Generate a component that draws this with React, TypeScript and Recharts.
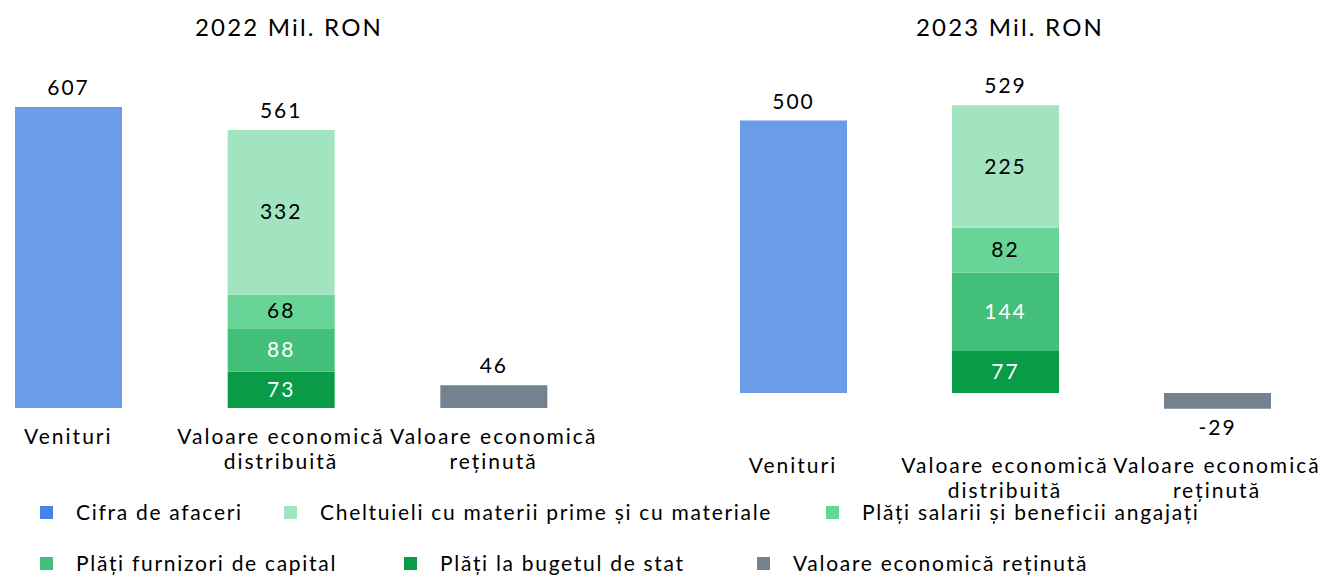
import { Bar, BarChart, LabelList, XAxis, YAxis } from "recharts";

const categorii = ["Venituri", "Valoare economică distribuită", "Valoare economică reținută"];

// 2022, Mil. RON
const cifraAfaceri2022 = [607, null, null];
const buget2022 = [null, 73, null];
const furnizori2022 = [null, 88, null];
const salarii2022 = [null, 68, null];
const cheltuieli2022 = [null, 332, null];
const retinuta2022 = [null, null, 46];
const totalDistribuit2022 = [null, 561, null];

// 2023, Mil. RON
const cifraAfaceri2023 = [500, null, null];
const buget2023 = [null, 77, null];
const furnizori2023 = [null, 144, null];
const salarii2023 = [null, 82, null];
const cheltuieli2023 = [null, 225, null];
const retinuta2023 = [null, null, -29];
const totalDistribuit2023 = [null, 529, null];

const FONT = "Lato, 'Open Sans', sans-serif";

// bottom-to-top stacking order
const SERIES = [
  { key: "cifra", name: "Cifra de afaceri", fill: "#6A9CE8", legend: "#4584E6", text: "#000", outside: true },
  { key: "buget", name: "Plăți la bugetul de stat", fill: "#0A9B47", legend: "#0A9B47", text: "#fff", outside: false },
  { key: "furnizori", name: "Plăți furnizori de capital", fill: "#42C07A", legend: "#42C07A", text: "#fff", outside: false },
  { key: "salarii", name: "Plăți salarii și beneficii angajați", fill: "#68D497", legend: "#68D497", text: "#000", outside: false },
  { key: "cheltuieli", name: "Cheltuieli cu materii prime și cu materiale", fill: "#A3E4C0", legend: "#A3E4C0", text: "#000", outside: false },
  { key: "retinuta", name: "Valoare economică reținută", fill: "#74818F", legend: "#74818F", text: "#000", outside: true },
];

const LEGEND_ORDER = ["cifra", "cheltuieli", "salarii", "furnizori", "buget", "retinuta"];
// x of legend text, per row
const LEGEND_POS = [
  { x: 76, y: 512 },
  { x: 320, y: 512 },
  { x: 862, y: 512 },
  { x: 76, y: 562.5 },
  { x: 440, y: 562.5 },
  { x: 793, y: 562.5 },
];

function buildRows(
  cifra: (number | null)[],
  buget: (number | null)[],
  furnizori: (number | null)[],
  salarii: (number | null)[],
  cheltuieli: (number | null)[],
  retinuta: (number | null)[],
  total: (number | null)[],
) {
  return categorii.map((cat, i) => ({
    cat,
    cifra: cifra[i],
    buget: buget[i],
    furnizori: furnizori[i],
    salarii: salarii[i],
    cheltuieli: cheltuieli[i],
    retinuta: retinuta[i],
    total: total[i],
  }));
}

const rows2022 = buildRows(cifraAfaceri2022, buget2022, furnizori2022, salarii2022, cheltuieli2022, retinuta2022, totalDistribuit2022);
const rows2023 = buildRows(cifraAfaceri2023, buget2023, furnizori2023, salarii2023, cheltuieli2023, retinuta2023, totalDistribuit2023);

function CatTick(props: any) {
  const { x, y, payload } = props;
  const lines = String(payload.value).replace("economică ", "economică\n").split("\n");
  return (
    <text x={x} y={y + 36} textAnchor="middle" fontFamily={FONT} fontSize={21} fill="#000" letterSpacing={2}>
      {lines.map((l, i) => (
        <tspan key={i} x={x} dy={i === 0 ? 0 : 25}>
          {l}
        </tspan>
      ))}
    </text>
  );
}

function valueLabel(mode: "outside" | "center", color: string) {
  return (p: any) => {
    const { value } = p;
    if (value === null || value === undefined) return null;
    const vb = p.viewBox ?? p;
    const top = Math.min(vb.y, vb.y + vb.height);
    const bottom = Math.max(vb.y, vb.y + vb.height);
    const cx = vb.x + vb.width / 2;
    let cy = (top + bottom) / 2;
    if (mode === "outside") cy = value < 0 ? bottom + 19 : top - 19;
    return (
      <text x={cx} y={cy + 7} textAnchor="middle" fontFamily={FONT} fontSize={21} fill={color} letterSpacing={2}>
        {value}
      </text>
    );
  };
}

function YearChart({ rows, domain, left, width, height, top, bottom }: any) {
  return (
    <div style={{ position: "absolute", left, top: 0 }}>
      <BarChart
        width={width}
        height={height}
        data={rows}
        margin={{ top, right: 0, left: 0, bottom }}
        stackOffset="sign"
      >
        <XAxis
          dataKey="cat"
          axisLine={false}
          tickLine={false}
          tickSize={0}
          tickMargin={0}
          interval={0}
          height={80}
          tick={<CatTick />}
        />
        <YAxis hide domain={domain} />
        {SERIES.map((s) => (
          <Bar key={s.key} dataKey={s.key} stackId="a" fill={s.fill} barSize={107} isAnimationActive={false}>
            <LabelList dataKey={s.key} content={valueLabel(s.outside ? "outside" : "center", s.text)} />
            {s.key === "cheltuieli" && <LabelList dataKey="total" content={valueLabel("outside", "#000")} />}
          </Bar>
        ))}
      </BarChart>
    </div>
  );
}

export default function App() {
  const titleStyle: React.CSSProperties = {
    position: "absolute",
    top: 12,
    width: 300,
    textAlign: "center",
    fontFamily: FONT,
    fontSize: 24,
    letterSpacing: 2.2,
    color: "#000",
  };
  return (
    <div
      style={{
        position: "absolute",
        left: 0,
        top: 0,
        width: 1325,
        height: 576,
        overflow: "hidden",
        background: "#fff",
      }}
    >
      <div style={{ ...titleStyle, left: 289 - 150 }}>2022 Mil. RON</div>
      <div style={{ ...titleStyle, left: 1010 - 150 }}>2023 Mil. RON</div>
      <YearChart rows={rows2022} domain={[0, 700]} left={-38} width={638} height={490} top={61} bottom={2} />
      <YearChart rows={rows2023} domain={[-80, 600]} left={687} width={636} height={520} top={66} bottom={3.4} />
      {LEGEND_ORDER.map((k, i) => {
        const s = SERIES.find((x) => x.key === k)!;
        const pos = LEGEND_POS[i];
        return (
          <div key={k}>
            <div
              style={{
                position: "absolute",
                left: pos.x - 36,
                top: pos.y - 6,
                width: 13,
                height: 13,
                background: s.legend,
              }}
            />
            <div
              style={{
                position: "absolute",
                left: pos.x,
                top: pos.y - 13,
                fontFamily: FONT,
                fontSize: 21,
                lineHeight: "26px",
                letterSpacing: 1.7,
                whiteSpace: "nowrap",
                color: "#000",
              }}
            >
              {s.name}
            </div>
          </div>
        );
      })}
    </div>
  );
}
